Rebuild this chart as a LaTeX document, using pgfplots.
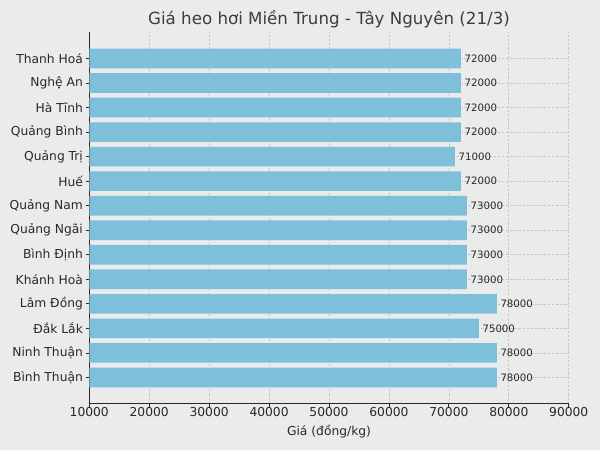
\documentclass[border=0pt]{standalone}
\usepackage{fontspec}
\setmainfont{DejaVu Sans}
\usepackage{pgfplots}
\pgfplotsset{compat=1.18}
\definecolor{figbg}{RGB}{235,235,235}
\definecolor{barblue}{RGB}{126,192,218}
\definecolor{gridgray}{RGB}{200,200,200}
\definecolor{txt}{RGB}{40,40,40}

\begin{document}
\begin{tikzpicture}
% figure background, 600x450 px at 0.96pt per px
\fill[figbg] (-85.7pt,-44.2pt) rectangle (490.3pt,387.8pt);
\path[use as bounding box] (-85.7pt,-44.2pt) rectangle (490.3pt,387.8pt);
\begin{axis}[
    at={(0pt,0pt)}, anchor=south west,
    scale only axis,
    width=460.3pt, height=357.1pt,
    xbar, bar width=0.8,
    xmin=10000, xmax=90000,
    ymin=-1.08, ymax=14.08,
    xtick={10000,20000,...,90000},
    ytick={0,...,13},
    yticklabels={Bình Thuận, Ninh Thuận, Đắk Lắk, Lâm Đồng, Khánh Hoà, Bình Định, Quảng Ngãi, Quảng Nam, Huế, Quảng Trị, Quảng Bình, Hà Tĩnh, Nghệ An, Thanh Hoá},
    scaled x ticks=false,
    /pgf/number format/1000 sep={},
    /pgf/number format/assume math mode=true,
    axis x line*=bottom, axis y line*=left,
    axis line style={txt, line width=1pt, -},
    tick align=outside,
    major tick length=3.4pt,
    tick style={txt, line width=0.8pt},
    grid=major,
    major grid style={gridgray, line width=0.6pt, dash pattern=on 2.5pt off 1.5pt},
    ticklabel style={font=\fontsize{11.8}{13}\selectfont, text=txt},
    xticklabel style={anchor=base, yshift=-9pt},
    yticklabel style={xshift=0.8pt},
    title={Giá heo hơi Miền Trung - Tây Nguyên (21/3)},
    title style={font=\fontsize{16}{18}\selectfont, text=txt!90!white, at={(0.5,1)}, anchor=base, yshift=1pt},
    xlabel={Giá (đồng/kg)},
    xlabel style={font=\fontsize{11.8}{13}\selectfont, text=txt, at={(axis description cs:0.5,0)}, anchor=base, yshift=-29.8pt},
    nodes near coords,
    every node near coord/.append style={font=\fontsize{9.8}{11}\selectfont, text=txt, anchor=west},
]
\addplot[fill=barblue, draw=none] coordinates {
    (78000,0) (78000,1) (75000,2) (78000,3) (73000,4) (73000,5) (73000,6)
    (73000,7) (72000,8) (71000,9) (72000,10) (72000,11) (72000,12) (72000,13)
};
\end{axis}
\end{tikzpicture}
\end{document}
